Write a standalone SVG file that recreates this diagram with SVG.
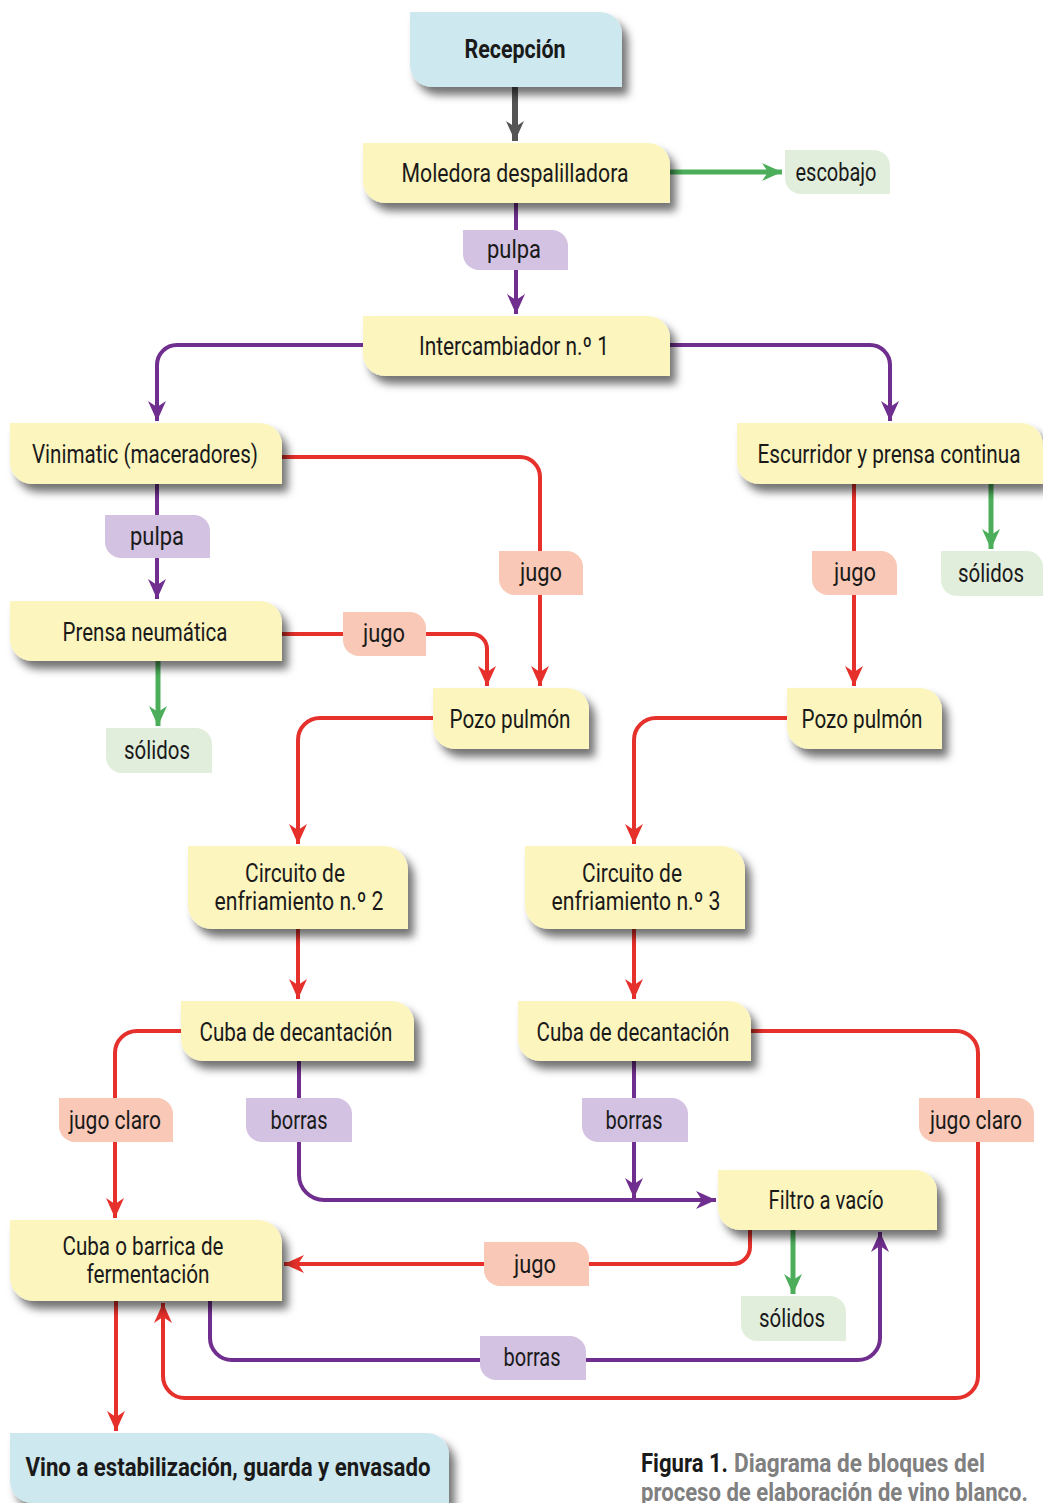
<svg xmlns="http://www.w3.org/2000/svg" width="1043" height="1503" viewBox="0 0 1043 1503">
<style>
  .main { fill: #FDF5BE; filter: url(#shadow); }
  .start { fill: #CDE8EF; filter: url(#shadow); }
  .lp { fill: #D3C2E1; }
  .ls { fill: #F9C8B6; }
  .lg { fill: #E2EEDC; }
  text { font-family: Roboto, "Liberation Sans", sans-serif; font-size: 26px; fill: #1a1a1a; text-anchor: middle; }
  .b { font-weight: bold; }
  .cap { text-anchor: start; font-weight: bold; fill: #808080; }
  .capk { fill: #1a1a1a; }
  .red { stroke: #E5302B; stroke-width: 4; fill: none; marker-end: url(#ar); }
  .pur { stroke: #702E8E; stroke-width: 4; fill: none; marker-end: url(#ap); }
  .grn { stroke: #4CAE5A; stroke-width: 5; fill: none; marker-end: url(#ag); }
  .gry { stroke: #555555; stroke-width: 6; fill: none; marker-end: url(#ay); }
</style>
<defs>
  <filter id="shadow" x="-10%" y="-20%" width="130%" height="160%">
    <feDropShadow dx="6" dy="8" stdDeviation="4" flood-color="#000" flood-opacity="0.55"/>
  </filter>
  <marker id="ar" viewBox="0 0 20 18" markerWidth="20" markerHeight="18" refX="20" refY="9" orient="auto" markerUnits="userSpaceOnUse"><path d="M0,0 L20,9 L0,18 L6,9 Z" fill="#E5302B"/></marker>
  <marker id="ap" viewBox="0 0 20 18" markerWidth="20" markerHeight="18" refX="20" refY="9" orient="auto" markerUnits="userSpaceOnUse"><path d="M0,0 L20,9 L0,18 L6,9 Z" fill="#702E8E"/></marker>
  <marker id="ag" viewBox="0 0 20 18" markerWidth="20" markerHeight="18" refX="20" refY="9" orient="auto" markerUnits="userSpaceOnUse"><path d="M0,0 L20,9 L0,18 L6,9 Z" fill="#4CAE5A"/></marker>
  <marker id="ay" viewBox="0 0 20 18" markerWidth="20" markerHeight="18" refX="20" refY="9" orient="auto" markerUnits="userSpaceOnUse"><path d="M0,0 L20,9 L0,18 L6,9 Z" fill="#555555"/></marker>
</defs>
<rect width="1043" height="1503" fill="#ffffff"/>

<g id="connectors">
  <path class="gry" d="M515,87 V141"/>
  <path class="grn" d="M670,172 H782"/>
  <path class="pur" d="M516,203 V314"/>
  <path class="pur" d="M363,345 H177 A20,20 0 0 0 157,365 V421"/>
  <path class="pur" d="M670,345 H870 A20,20 0 0 1 890,365 V421"/>
  <path class="pur" d="M157,484 V599"/>
  <path class="red" d="M282,457 H520 A20,20 0 0 1 540,477 V686"/>
  <path class="red" d="M282,634 H472 A15,15 0 0 1 487,649 V686"/>
  <path class="grn" d="M158,661 V726"/>
  <path class="red" d="M854,484 V686"/>
  <path class="grn" d="M991,484 V549"/>
  <path class="red" d="M433,718 H320 A22,22 0 0 0 298,740 V844"/>
  <path class="red" d="M787,718 H656 A22,22 0 0 0 634,740 V844"/>
  <path class="red" d="M298,929 V999"/>
  <path class="red" d="M634,929 V999"/>
  <path class="red" d="M181,1031 H137 A22,22 0 0 0 115,1053 V1218"/>
  <path class="pur" d="M299,1061 V1175 A25,25 0 0 0 324,1200 H716"/>
  <path class="pur" d="M634,1061 V1198"/>
  <path class="red" d="M751,1031 H956 A22,22 0 0 1 978,1053 V1376 A22,22 0 0 1 956,1398 H185 A22,22 0 0 1 163,1376 V1303"/>
  <path class="red" d="M750,1230 V1247 A17,17 0 0 1 733,1264 H284"/>
  <path class="grn" d="M793,1230 V1294"/>
  <path class="pur" d="M210,1301 V1338 A22,22 0 0 0 232,1360 H858 A22,22 0 0 0 880,1338 V1232"/>
  <path class="red" d="M116,1301 V1431"/>
</g>

<g id="nodes">
  <g id="n-recepcion"><path class="start" d="M410,12 H600 A22,22 0 0 1 622,34 V87 H432 A22,22 0 0 1 410,65 Z"/><text class="b" x="515" y="58" textLength="101" lengthAdjust="spacingAndGlyphs">Recepción</text></g>
  <g id="n-moledora"><path class="main" d="M363,143 H648 A22,22 0 0 1 670,165 V203 H385 A22,22 0 0 1 363,181 Z"/><text x="515" y="182" textLength="227" lengthAdjust="spacingAndGlyphs">Moledora despalilladora</text></g>
  <g id="n-intercambiador"><path class="main" d="M363,316 H648 A22,22 0 0 1 670,338 V376 H385 A22,22 0 0 1 363,354 Z"/><text x="514" y="355" textLength="190" lengthAdjust="spacingAndGlyphs">Intercambiador n.º 1</text></g>
  <g id="n-vinimatic"><path class="main" d="M10,423 H260 A22,22 0 0 1 282,445 V484 H32 A22,22 0 0 1 10,462 Z"/><text x="145" y="463" textLength="226" lengthAdjust="spacingAndGlyphs">Vinimatic (maceradores)</text></g>
  <g id="n-escurridor"><path class="main" d="M737,423 H1021 A22,22 0 0 1 1043,445 V484 H759 A22,22 0 0 1 737,462 Z"/><text x="889" y="463" textLength="263" lengthAdjust="spacingAndGlyphs">Escurridor y prensa continua</text></g>
  <g id="n-prensa"><path class="main" d="M10,601 H260 A22,22 0 0 1 282,623 V661 H32 A22,22 0 0 1 10,639 Z"/><text x="145" y="641" textLength="165" lengthAdjust="spacingAndGlyphs">Prensa neumática</text></g>
  <g id="n-pozo1"><path class="main" d="M433,688 H567 A22,22 0 0 1 589,710 V749 H455 A22,22 0 0 1 433,727 Z"/><text x="510" y="728" textLength="121" lengthAdjust="spacingAndGlyphs">Pozo pulmón</text></g>
  <g id="n-pozo2"><path class="main" d="M787,688 H920 A22,22 0 0 1 942,710 V749 H809 A22,22 0 0 1 787,727 Z"/><text x="862" y="728" textLength="121" lengthAdjust="spacingAndGlyphs">Pozo pulmón</text></g>
  <g id="n-circuito2"><path class="main" d="M188,846 H384 A24,24 0 0 1 408,870 V929 H212 A24,24 0 0 1 188,905 Z"/><text x="295" y="882" textLength="100" lengthAdjust="spacingAndGlyphs">Circuito de</text><text x="299" y="910" textLength="169" lengthAdjust="spacingAndGlyphs">enfriamiento n.º 2</text></g>
  <g id="n-circuito3"><path class="main" d="M525,846 H721 A24,24 0 0 1 745,870 V929 H549 A24,24 0 0 1 525,905 Z"/><text x="632" y="882" textLength="100" lengthAdjust="spacingAndGlyphs">Circuito de</text><text x="636" y="910" textLength="169" lengthAdjust="spacingAndGlyphs">enfriamiento n.º 3</text></g>
  <g id="n-cuba1"><path class="main" d="M181,1001 H392 A22,22 0 0 1 414,1023 V1061 H203 A22,22 0 0 1 181,1039 Z"/><text x="296" y="1041" textLength="193" lengthAdjust="spacingAndGlyphs">Cuba de decantación</text></g>
  <g id="n-cuba2"><path class="main" d="M518,1001 H729 A22,22 0 0 1 751,1023 V1061 H540 A22,22 0 0 1 518,1039 Z"/><text x="633" y="1041" textLength="193" lengthAdjust="spacingAndGlyphs">Cuba de decantación</text></g>
  <g id="n-filtro"><path class="main" d="M718,1170 H915 A22,22 0 0 1 937,1192 V1230 H740 A22,22 0 0 1 718,1208 Z"/><text x="826" y="1209" textLength="115" lengthAdjust="spacingAndGlyphs">Filtro a vacío</text></g>
  <g id="n-fermentacion"><path class="main" d="M10,1220 H258 A24,24 0 0 1 282,1244 V1301 H34 A24,24 0 0 1 10,1277 Z"/><text x="143" y="1255" textLength="161" lengthAdjust="spacingAndGlyphs">Cuba o barrica de</text><text x="148" y="1283" textLength="123" lengthAdjust="spacingAndGlyphs">fermentación</text></g>
  <g id="n-vino"><path class="start" d="M10,1433 H427 A22,22 0 0 1 449,1455 V1503 H32 A22,22 0 0 1 10,1481 Z"/><text class="b" x="228" y="1476" textLength="405" lengthAdjust="spacingAndGlyphs">Vino a estabilización, guarda y envasado</text></g>

  <g id="l-escobajo"><path class="lg" d="M785,150 H874 A16,16 0 0 1 890,166 V194 H801 A16,16 0 0 1 785,178 Z"/><text x="836" y="181" textLength="81" lengthAdjust="spacingAndGlyphs">escobajo</text></g>
  <g id="l-pulpa1"><path class="lp" d="M463,230 H552 A16,16 0 0 1 568,246 V270 H479 A16,16 0 0 1 463,254 Z"/><text x="514" y="258" textLength="54" lengthAdjust="spacingAndGlyphs">pulpa</text></g>
  <g id="l-pulpa2"><path class="lp" d="M105,515 H194 A16,16 0 0 1 210,531 V558 H121 A16,16 0 0 1 105,542 Z"/><text x="157" y="545" textLength="54" lengthAdjust="spacingAndGlyphs">pulpa</text></g>
  <g id="l-jugo1"><path class="ls" d="M499,551 H567 A16,16 0 0 1 583,567 V595 H515 A16,16 0 0 1 499,579 Z"/><text x="541" y="581" textLength="42" lengthAdjust="spacingAndGlyphs">jugo</text></g>
  <g id="l-jugo2"><path class="ls" d="M812,551 H881 A16,16 0 0 1 897,567 V595 H828 A16,16 0 0 1 812,579 Z"/><text x="855" y="581" textLength="42" lengthAdjust="spacingAndGlyphs">jugo</text></g>
  <g id="l-solidos1"><path class="lg" d="M941,551 H1027 A16,16 0 0 1 1043,567 V596 H957 A16,16 0 0 1 941,580 Z"/><text x="991" y="582" textLength="66" lengthAdjust="spacingAndGlyphs">sólidos</text></g>
  <g id="l-jugo3"><path class="ls" d="M343,612 H410 A16,16 0 0 1 426,628 V656 H359 A16,16 0 0 1 343,640 Z"/><text x="384" y="642" textLength="42" lengthAdjust="spacingAndGlyphs">jugo</text></g>
  <g id="l-solidos2"><path class="lg" d="M106,728 H196 A16,16 0 0 1 212,744 V773 H122 A16,16 0 0 1 106,757 Z"/><text x="157" y="759" textLength="66" lengthAdjust="spacingAndGlyphs">sólidos</text></g>
  <g id="l-jugoclaro1"><path class="ls" d="M59,1098 H157 A16,16 0 0 1 173,1114 V1142 H75 A16,16 0 0 1 59,1126 Z"/><text x="115" y="1129" textLength="92" lengthAdjust="spacingAndGlyphs">jugo claro</text></g>
  <g id="l-borras1"><path class="lp" d="M246,1098 H336 A16,16 0 0 1 352,1114 V1142 H262 A16,16 0 0 1 246,1126 Z"/><text x="299" y="1129" textLength="57" lengthAdjust="spacingAndGlyphs">borras</text></g>
  <g id="l-borras2"><path class="lp" d="M582,1098 H672 A16,16 0 0 1 688,1114 V1142 H598 A16,16 0 0 1 582,1126 Z"/><text x="634" y="1129" textLength="57" lengthAdjust="spacingAndGlyphs">borras</text></g>
  <g id="l-jugoclaro2"><path class="ls" d="M919,1098 H1018 A16,16 0 0 1 1034,1114 V1142 H935 A16,16 0 0 1 919,1126 Z"/><text x="976" y="1129" textLength="92" lengthAdjust="spacingAndGlyphs">jugo claro</text></g>
  <g id="l-jugo4"><path class="ls" d="M484,1242 H573 A16,16 0 0 1 589,1258 V1286 H500 A16,16 0 0 1 484,1270 Z"/><text x="535" y="1273" textLength="42" lengthAdjust="spacingAndGlyphs">jugo</text></g>
  <g id="l-solidos3"><path class="lg" d="M741,1296 H830 A16,16 0 0 1 846,1312 V1341 H757 A16,16 0 0 1 741,1325 Z"/><text x="792" y="1327" textLength="66" lengthAdjust="spacingAndGlyphs">sólidos</text></g>
  <g id="l-borras3"><path class="lp" d="M480,1336 H570 A16,16 0 0 1 586,1352 V1380 H496 A16,16 0 0 1 480,1364 Z"/><text x="532" y="1366" textLength="57" lengthAdjust="spacingAndGlyphs">borras</text></g>
</g>

<g id="caption">
  <text class="cap capk" x="641" y="1472" textLength="87" lengthAdjust="spacingAndGlyphs">Figura 1.</text>
  <text class="cap" x="734" y="1472" textLength="251" lengthAdjust="spacingAndGlyphs">Diagrama de bloques del</text>
  <text class="cap" x="641" y="1501" textLength="387" lengthAdjust="spacingAndGlyphs">proceso de elaboración de vino blanco.</text>
</g>
</svg>
